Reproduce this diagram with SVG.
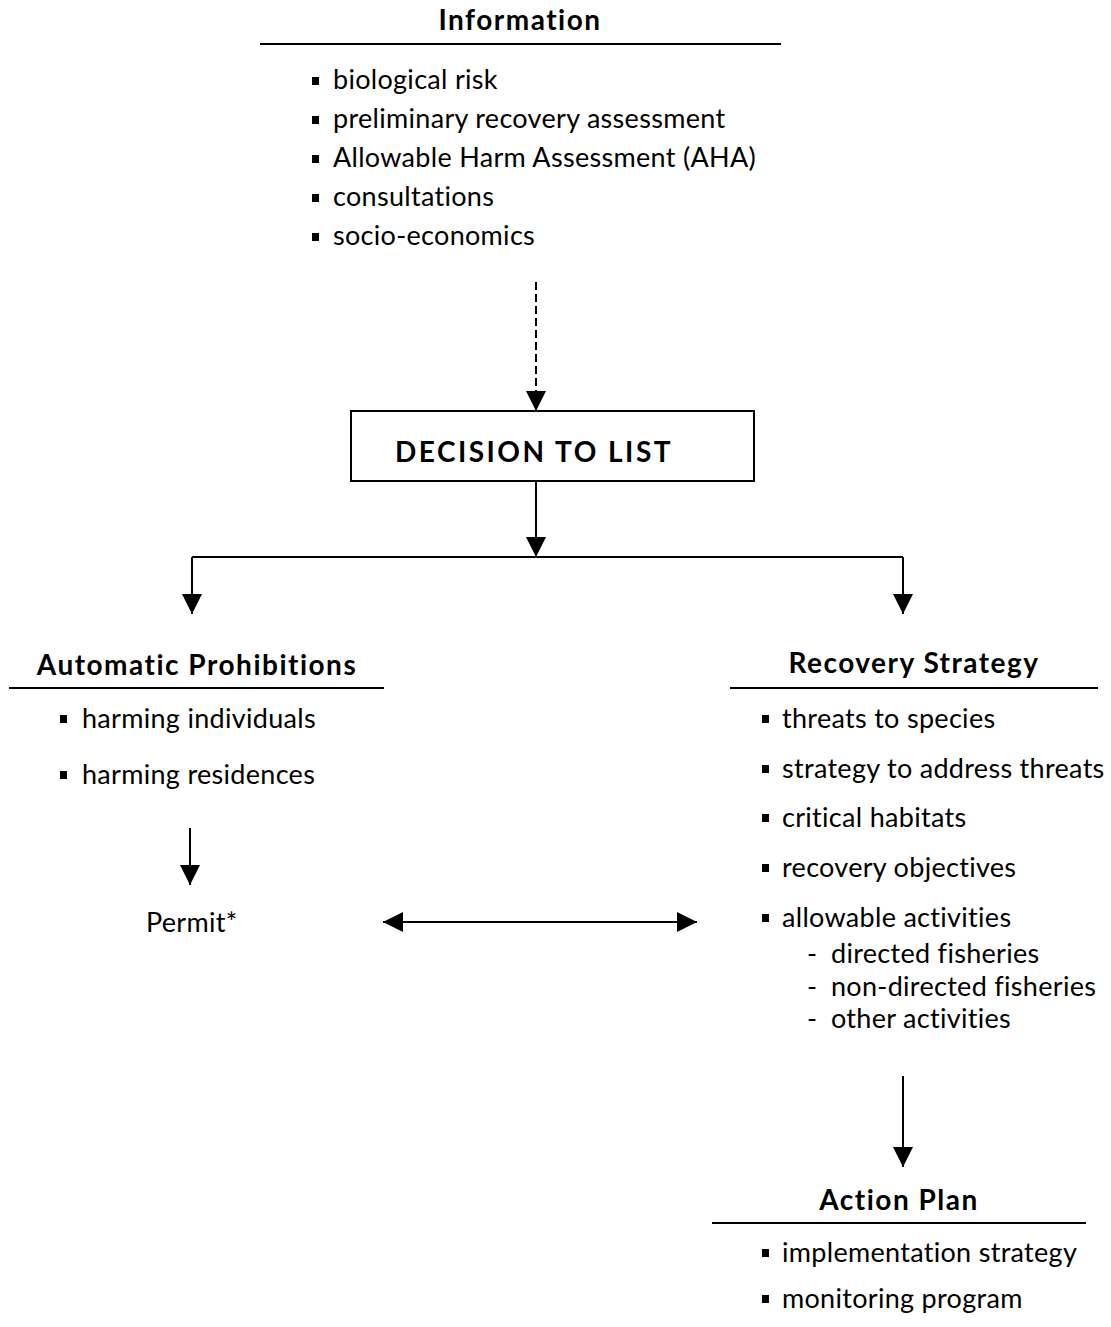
<svg xmlns="http://www.w3.org/2000/svg" width="1111" height="1327" viewBox="0 0 1111 1327">
<style>
text{font-family:Lato,"Noto Sans","Liberation Sans",sans-serif;fill:#000;}
.t{font-size:27px;letter-spacing:0.3px;}
.h{font-size:28px;font-weight:bold;letter-spacing:1.5px;}
.hd{font-size:28px;font-weight:bold;letter-spacing:2.5px;}
.ln{stroke:#000;stroke-width:2;fill:none;}
.dash{stroke:#000;stroke-width:2;fill:none;stroke-dasharray:8,4;}
.c{stroke:#000;stroke-width:2;fill:none;}
.b{fill:#000;}
</style>
<defs>
<marker id="ah" markerWidth="20" markerHeight="20" viewBox="0 0 20 20" refX="20" refY="10" orient="auto" markerUnits="userSpaceOnUse">
<path d="M0,0 L20,10 L0,20 Z" fill="#000"/>
</marker>
</defs>
<rect width="1111" height="1327" fill="#fff"/>

<g id="information">
<text class="h" x="520" y="30" text-anchor="middle">Information</text>
<line class="ln" x1="260" y1="44" x2="781" y2="44"/>
<rect class="b" x="312" y="77" width="7" height="8"/>
<text class="t" x="333" y="89">biological risk</text>
<rect class="b" x="312" y="116" width="7" height="8"/>
<text class="t" x="333" y="128">preliminary recovery assessment</text>
<rect class="b" x="312" y="155" width="7" height="8"/>
<text class="t" x="333" y="167">Allowable Harm Assessment (AHA)</text>
<rect class="b" x="312" y="194" width="7" height="8"/>
<text class="t" x="333" y="206">consultations</text>
<rect class="b" x="312" y="233" width="7" height="8"/>
<text class="t" x="333" y="245">socio-economics</text>
</g>

<g id="decision">
<rect x="351" y="411" width="403" height="70" fill="#fff" stroke="#000" stroke-width="2"/>
<text class="hd" x="534" y="462" text-anchor="middle">DECISION TO LIST</text>
</g>

<g id="prohibitions">
<text class="h" x="197" y="675" text-anchor="middle">Automatic Prohibitions</text>
<line class="ln" x1="9" y1="688" x2="384" y2="688"/>
<rect class="b" x="60" y="715" width="7" height="8"/>
<text class="t" x="82" y="728">harming individuals</text>
<rect class="b" x="60" y="771" width="7" height="8"/>
<text class="t" x="82" y="784">harming residences</text>
</g>

<g id="permit">
<text class="t" x="146" y="932">Permit*</text>
</g>

<g id="recovery">
<text class="h" x="914" y="673" text-anchor="middle">Recovery Strategy</text>
<line class="ln" x1="730" y1="688" x2="1098" y2="688"/>
<rect class="b" x="762" y="715" width="7" height="8"/>
<text class="t" x="782" y="728">threats to species</text>
<rect class="b" x="762" y="765" width="7" height="8"/>
<text class="t" x="782" y="778">strategy to address threats</text>
<rect class="b" x="762" y="814" width="7" height="8"/>
<text class="t" x="782" y="827">critical habitats</text>
<rect class="b" x="762" y="864" width="7" height="8"/>
<text class="t" x="782" y="877">recovery objectives</text>
<rect class="b" x="762" y="914" width="7" height="8"/>
<text class="t" x="782" y="927">allowable activities</text>
<text class="t" x="807" y="963">-</text>
<text class="t" x="831" y="963">directed fisheries</text>
<text class="t" x="807" y="996">-</text>
<text class="t" x="831" y="996">non-directed fisheries</text>
<text class="t" x="807" y="1028">-</text>
<text class="t" x="831" y="1028">other activities</text>
</g>

<g id="action-plan">
<text class="h" x="899" y="1210" text-anchor="middle">Action Plan</text>
<line class="ln" x1="712" y1="1223" x2="1086" y2="1223"/>
<rect class="b" x="762" y="1249" width="7" height="8"/>
<text class="t" x="782" y="1262">implementation strategy</text>
<rect class="b" x="762" y="1295" width="7" height="8"/>
<text class="t" x="782" y="1308">monitoring program</text>
</g>

<g id="connectors">
<line class="dash" x1="536" y1="282" x2="536" y2="411" marker-end="url(#ah)"/>
<line class="c" x1="536" y1="482" x2="536" y2="557" marker-end="url(#ah)"/>
<polyline class="c" points="192,557 903,557"/>
<line class="c" x1="192" y1="557" x2="192" y2="614" marker-end="url(#ah)"/>
<line class="c" x1="903" y1="557" x2="903" y2="614" marker-end="url(#ah)"/>
<line class="c" x1="190" y1="828" x2="190" y2="885" marker-end="url(#ah)"/>
<line class="c" x1="400" y1="922" x2="697" y2="922" marker-end="url(#ah)"/>
<line class="c" x1="680" y1="922" x2="383" y2="922" marker-end="url(#ah)"/>
<line class="c" x1="903" y1="1076" x2="903" y2="1167" marker-end="url(#ah)"/>
</g>
</svg>
